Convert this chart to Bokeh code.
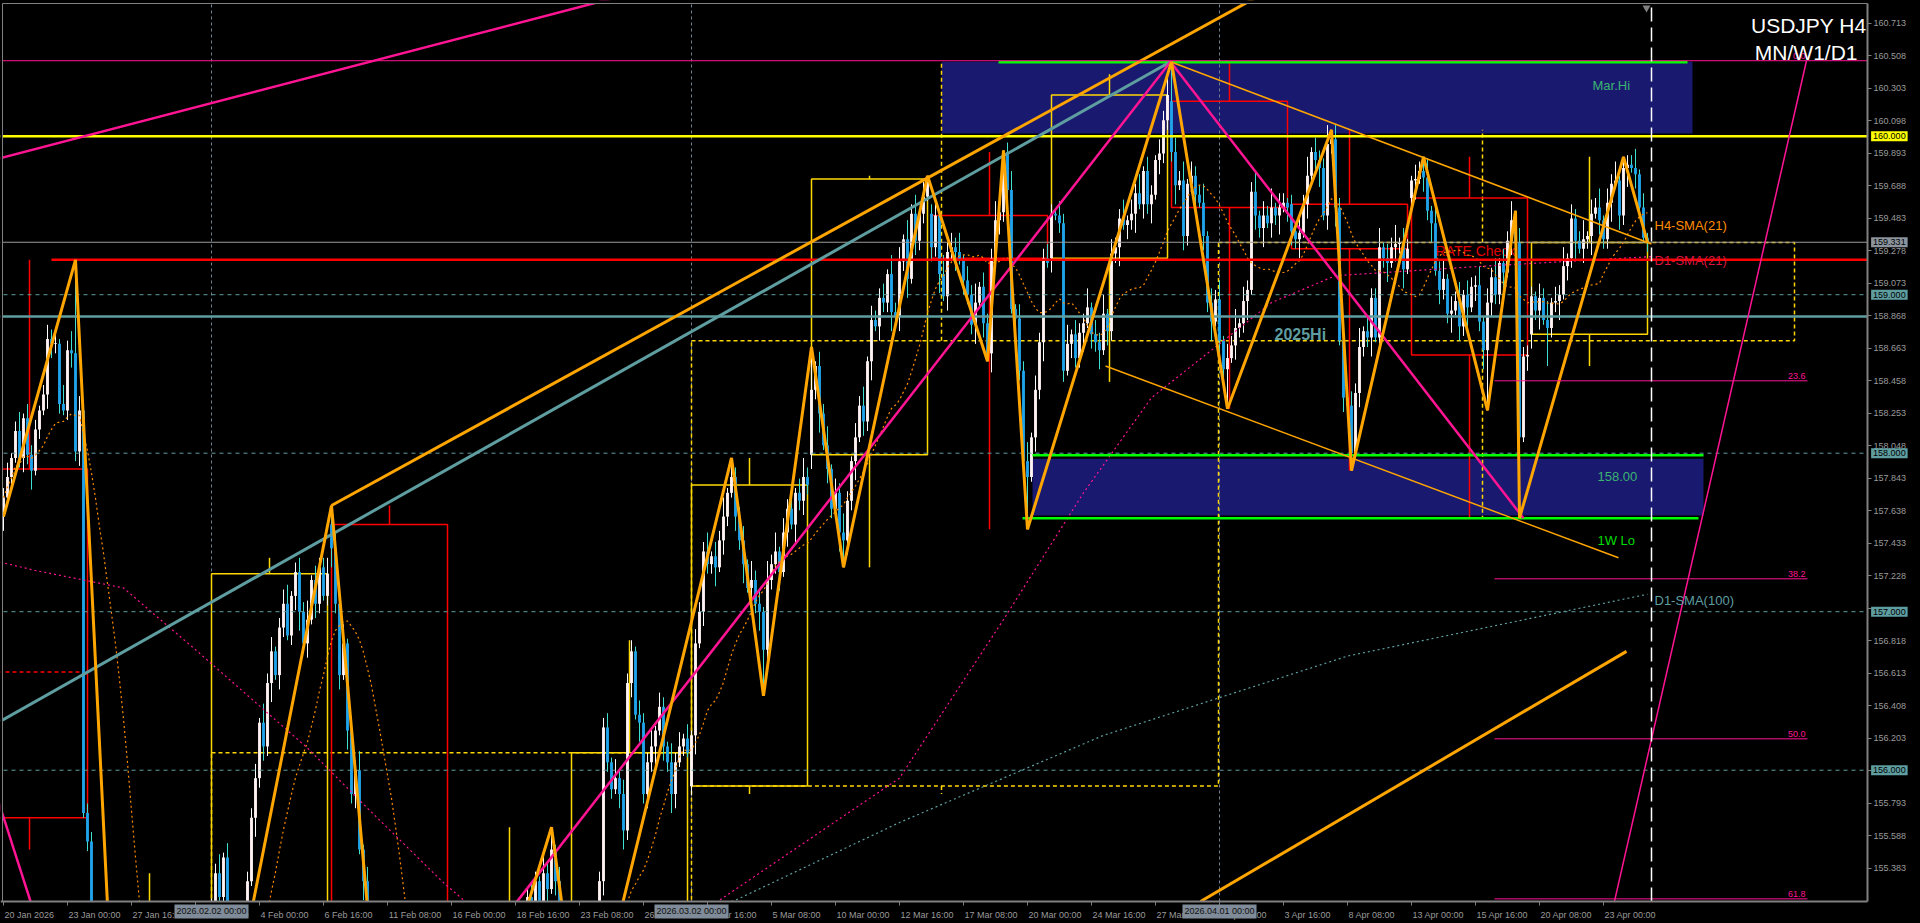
import pandas as pd
from bokeh.plotting import figure
from bokeh.models import Range1d, FixedTicker, PrintfTickFormatter, Label, ColumnDataSource
from bokeh.core.properties import value
from bokeh.embed import file_html
from bokeh.resources import INLINE

FONT = "Liberation Sans"

# ---------------- H4 candles (bar 0 = 20 Jan 2026 08:00) ----------------
close = [
    # 20-23 Jan
    157.72, 157.85, 157.97, 158.14, 157.97, 158.22, 157.99, 157.89, 158.15, 158.27, 158.37,
    158.72, 158.69, 158.69, 158.31, 158.27, 158.65, 158.63, 158.01, 158.27, 155.73, 155.55,
    # 26-30 Jan
    154.90, 154.60, 154.35, 154.50, 154.20, 154.05, 153.80, 153.40, 153.10, 152.60,
    152.30, 152.55, 152.80, 152.60, 152.90, 153.10, 152.95, 153.30, 153.20, 153.50,
    153.40, 153.65, 153.55, 153.80, 153.90, 154.10, 154.00, 154.30, 154.50, 154.75,
    # 2-6 Feb
    155.10, 155.35, 155.20, 155.45, 155.10, 154.90, 154.75, 154.95, 154.85, 155.30,
    155.70, 155.95, 156.30, 156.15, 156.55, 156.75, 156.60, 156.90, 157.05, 156.85,
    157.10, 157.25, 157.00, 156.80, 156.95, 157.20, 157.05, 157.28, 157.10, 157.24,
    # 9-13 Feb
    157.40, 157.05, 156.60, 156.80, 156.25, 155.85, 156.00, 155.50, 155.30, 154.90,
    154.60, 154.20, 154.40, 153.95, 153.70, 153.90, 153.50, 153.20, 153.05, 152.80,
    152.95, 153.20, 153.00, 152.75, 152.90, 153.10, 152.85, 152.70, 152.95, 152.90,
    # 16-20 Feb
    153.10, 153.35, 153.20, 153.50, 153.70, 153.55, 153.80, 154.00, 153.85, 154.10,
    153.95, 154.20, 154.40, 154.25, 154.55, 154.70, 154.50, 154.80, 154.95, 155.20,
    155.05, 155.30, 155.15, 155.35, 155.25, 155.50, 155.30, 155.00, 154.70, 154.55,
    # 23-27 Feb
    154.50, 154.30, 154.45, 154.20, 154.35, 154.60, 154.40, 155.30, 156.27, 156.05,
    155.88, 155.95, 155.85, 155.62, 156.55, 156.75, 156.35, 156.30, 155.85, 156.05,
    156.15, 156.25, 156.40, 156.15, 156.05, 155.85, 156.05, 156.15, 156.20, 156.11,
    # 2-6 Mar
    156.22, 156.80, 157.00, 157.38, 157.30, 157.35, 157.28, 157.45, 157.60, 157.75,
    157.85, 157.60, 157.45, 157.30, 157.15, 157.20, 157.05, 157.00, 156.76, 157.20,
    157.30, 157.38, 157.25, 157.50, 157.65, 157.55, 157.75, 157.70, 157.85, 157.80,
    # 9-13 Mar
    158.40, 158.55, 158.25, 158.05, 157.90, 157.65, 157.75, 157.50, 157.45, 157.70,
    157.95, 158.10, 158.30, 158.20, 158.58, 158.84, 158.80, 158.98, 158.95, 159.13,
    158.89, 158.86, 159.21, 159.35, 159.10, 159.51, 159.34, 159.51, 159.62, 159.73,
    # 16-20 Mar
    159.30, 159.50, 159.13, 158.99, 159.27, 159.30, 159.27, 159.22, 159.09, 159.00,
    158.81, 158.95, 159.05, 158.82, 158.63, 159.23, 159.47, 159.52, 159.90, 159.66,
    158.91, 158.85, 158.52, 157.95, 157.85, 158.10, 158.40, 158.70, 159.23, 159.20,
    # 23-27 Mar
    159.51, 159.50, 159.45, 158.52, 158.69, 158.75, 158.60, 158.76, 158.82, 158.92,
    158.75, 158.70, 158.65, 158.88, 158.77, 159.26, 159.30, 159.48, 159.44, 159.47,
    159.51, 159.64, 159.57, 159.78, 159.57, 159.63, 159.85, 159.89, 160.10, 160.26,
    # 30 Mar - 3 Apr
    159.90, 159.69, 159.72, 159.37, 159.70, 159.75, 159.63, 159.58, 159.37, 158.95,
    158.83, 158.97, 158.71, 158.53, 158.60, 158.68, 158.79, 158.82, 158.96, 159.03,
    159.65, 159.50, 159.42, 159.50, 159.45, 159.55, 159.50, 159.55, 159.58, 159.55,
    # 6-10 Apr
    159.40, 159.35, 159.39, 159.57, 159.75, 159.90, 159.85, 159.80, 159.50, 159.95,
    159.98, 159.55, 158.71, 158.35, 158.30, 158.00, 158.38, 158.67, 158.77, 158.73,
    158.98, 158.73, 159.30, 159.23, 159.20, 159.30, 159.32, 159.33, 159.16, 159.29,
    # 13-17 Apr
    159.72, 159.73, 159.78, 159.74, 159.53, 159.45, 159.15, 159.03, 159.10, 158.88,
    158.90, 158.96, 158.80, 159.00, 158.92, 159.05, 159.06, 158.83, 158.65, 158.95,
    159.11, 159.00, 159.20, 159.14, 159.34, 159.47, 159.33, 158.10, 158.61, 158.62,
    # 20-24 Apr
    158.99, 158.90, 158.98, 158.84, 158.79, 158.95, 158.96, 159.00, 159.18, 159.23,
    159.48, 159.34, 159.29, 159.35, 159.37, 159.51, 159.55, 159.47, 159.35, 159.58,
    159.70, 159.72, 159.50, 159.80, 159.82, 159.80, 159.76, 159.55, 159.36, 159.33,
]
# wick lengths, one digit per bar, in units of 3 pips
wick_up = ("2312413221232314242312"
           "231242312132413213242312132423" "324132413223142312341232413221"
           "132413241321324132413241321324" "231422314323142431423214231342"
           "213241322314232413224132142313" "132241324132231423142413221342"
           "213241324213241322314231424132" "231423241324132241324132413223"
           "213241322413241322413241321324" "132413224132413241322413241321"
           "213241322413241324132241324132" "132241324132413224132413241322"
           "213241324132241324132413224131")
wick_dn = ("3121232412133221232312"
           "312132423121324231213242312132" "213242312314232413212342313212"
           "423142314231423142314231423142" "312433124231243312432124313241"
           "324132413221342314232413243121" "241322413213241324132241314232"
           "324132241324132413224132413221" "324132413224132413241322413241"
           "312413224132413224132413241322" "241322413241324132241324132413"
           "324132241324132413224132413241" "241324132241324132413224132413"
           "324132241324132413224132413212")
gap_open = {0: 157.60, 82: 157.55, 172: 155.90, 202: 157.99, 232: 159.51,
            262: 159.23, 292: 160.22, 322: 159.57, 352: 159.61, 382: 158.75}
high_fix = {18: 159.22, 81: 157.34, 82: 157.67, 137: 155.64, 157: 156.82, 182: 157.97,
            202: 158.67, 231: 159.75, 250: 159.91, 291: 160.39, 292: 160.47, 332: 160.04,
            355: 159.87, 378: 159.53, 405: 159.87}
low_fix = {32: 152.10, 58: 154.60, 100: 152.60, 145: 154.15, 190: 156.47, 210: 157.28,
           246: 158.58, 256: 157.52, 265: 158.45, 306: 158.28, 337: 157.89, 371: 158.27,
           379: 157.59, 386: 158.55}

# ---------------- higher-timeframe candles ----------------
wk_start = [-8, 22, 52, 82, 112, 142, 172, 202, 232, 262, 292, 322, 352, 382]
wk_open  = [157.90, 154.20, 154.75, 157.55, 153.10, 154.55, 155.90, 157.99, 159.50, 159.23, 160.22, 159.57, 159.61, 158.75]
wk_high  = [159.22, 155.35, 157.34, 157.67, 155.64, 156.82, 157.97, 159.75, 159.90, 160.39, 160.47, 160.04, 159.87, 159.87]
wk_low   = [155.50, 152.10, 154.60, 152.60, 152.80, 154.15, 155.85, 157.28, 157.52, 158.45, 158.28, 157.89, 157.59, 158.55]
wk_close = [155.70, 154.90, 157.24, 152.90, 154.55, 156.11, 157.80, 159.73, 159.23, 160.26, 159.55, 159.29, 158.62, 159.33]

mn_start = [52, 172, 303.75]
mn_end   = [172, 303.75, 447.75]
mn_open  = [154.75, 155.90, 158.71]
mn_high  = [156.11, 160.47, 160.04]
mn_low   = [152.60, 155.85, 157.59]
mn_close = [156.11, 158.71, 159.33]
mn_wick_x = [112, 234.5, 369.75]
jan_open = 156.62

# ---------------- zigzag swing points ----------------
zig_bar = [0, 18, 32, 44, 58, 82, 100, 137, 145, 182, 190, 202, 210, 231, 246, 250, 256,
           292, 306, 332, 337, 355, 371, 378, 379, 405, 411]
zig_price = [157.60, 159.22, 152.10, 154.95, 154.60, 157.67, 152.60, 155.64, 154.15, 157.97,
             156.47, 158.67, 157.28, 159.75, 158.58, 159.91, 157.52, 160.47, 158.28, 160.04,
             157.89, 159.87, 158.27, 159.53, 157.59, 159.87, 159.33]

# ---------------- daily moving averages ----------------
d1s21_bar = [-2, 8, 30, 48, 62, 76, 91, 110, 122, 150, 179, 224, 250, 270, 287, 317, 333, 370, 412]
d1s21_val = [157.32, 157.26, 157.15, 156.76, 156.45, 156.14, 155.76, 155.29, 155.03, 154.75,
             155.18, 155.95, 156.95, 157.75, 158.35, 158.95, 159.12, 159.18, 159.24]
d1s100_bar = [170, 183, 224, 275, 336, 411]
d1s100_val = [155.08, 155.18, 155.67, 156.22, 156.72, 157.11]

# ---------------- levels ----------------
level_160 = 160.000
d1_line = 159.22
price_now = 159.331
hi_2025 = 158.863
round_levels = [159.0, 158.0, 157.0, 156.0]
fib_hi, fib_lo = 160.476, 151.92
fib_levels = [0.0, 23.6, 38.2, 50.0, 61.8]

y_ticks = [160.713, 160.508, 160.303, 160.098, 159.893, 159.688, 159.483, 159.278, 159.073,
           158.868, 158.663, 158.458, 158.253, 158.048, 157.843, 157.638, 157.433, 157.228,
           157.023, 156.818, 156.613, 156.408, 156.203, 155.998, 155.793, 155.588, 155.383]
x_ticks = [0, 16, 32, 48, 64, 80, 96, 112, 128, 144, 160, 176, 192, 208, 224, 240, 256,
           272, 288, 304, 320, 336, 352, 368, 384, 400]
x_labels = ["20 Jan 2026", "23 Jan 00:00", "27 Jan 16:00", "30 Jan 08:00", "4 Feb 00:00",
            "6 Feb 16:00", "11 Feb 08:00", "16 Feb 00:00", "18 Feb 16:00", "23 Feb 08:00",
            "26 Feb 00:00", "2 Mar 16:00", "5 Mar 08:00", "10 Mar 00:00", "12 Mar 16:00",
            "17 Mar 08:00", "20 Mar 00:00", "24 Mar 16:00", "27 Mar 08:00", "1 Apr 00:00",
            "3 Apr 16:00", "8 Apr 08:00", "13 Apr 00:00", "15 Apr 16:00", "20 Apr 08:00",
            "23 Apr 00:00"]
sep_bar = [52, 172, 304]
sep_text = ["2026.02.02 00:00", "2026.03.02 00:00", "2026.04.01 00:00"]

# chart area limits (bar / price units)
AX_X = 466.0          # price scale line
AX_Y = 155.172        # time scale line
TOP_Y = 160.837
LEFT_X = -0.25

# ---------------- build OHLC ----------------
n = len(close)
assert len(wick_up) == n and len(wick_dn) == n
opens, highs, lows = [], [], []
for i, c in enumerate(close):
    o = gap_open.get(i, close[i - 1] if i > 0 else c)
    opens.append(o)
    highs.append(high_fix.get(i, max(o, c) + int(wick_up[i]) * 0.03))
    lows.append(low_fix.get(i, min(o, c) - int(wick_dn[i]) * 0.03))

bull = [c >= o for o, c in zip(opens, close)]
src = ColumnDataSource(dict(
    x=list(range(n)), high=highs, low=lows,
    top=[max(o, c) + (0.006 if abs(o - c) < 0.006 else 0) for o, c in zip(opens, close)],
    bottom=[min(o, c) for o, c in zip(opens, close)],
    body=["#fff3f3" if b else "#1fa3ea" for b in bull],
    wick=["#ffffff" if b else "#40e0d0" for b in bull],
))
sma21 = pd.Series(close).rolling(21, min_periods=1).mean().tolist()

# ---------------- figure ----------------
p = figure(width=1920, height=923, title=None,
           x_range=Range1d(-0.75, 479.25), y_range=Range1d(155.033, 160.856),
           output_backend="svg", toolbar_location=None, tools="",
           y_axis_location="right", background_fill_color="#000000",
           border_fill_color="#000000", min_border=0, outline_line_color=None)
p.grid.visible = False

XL, XR = -10, AX_X

# blue zones
p.quad(left=[234.5, 257.25], right=[422.25, 425], bottom=[160.017, 157.607],
       top=[160.47, 157.965], fill_color="#191970", line_color=None)

# period separators
for b in sep_bar:
    p.line([b, b], [AX_Y, TOP_Y], line_color="#6f8090", line_width=1, line_dash="3 3")

# monthly candles (dashed)
p.line([XL, 20], [jan_open, jan_open], line_color="#ff0000", line_width=1.5, line_dash="4 3")
for s, e, o, h, l, c, wx in zip(mn_start, mn_end, mn_open, mn_high, mn_low, mn_close, mn_wick_x):
    col = "#ffd700" if c >= o else "#ff0000"
    p.quad(left=s, right=e, bottom=min(o, c), top=max(o, c), fill_color=None,
           line_color=col, line_width=1.5, line_dash="4 3")
    p.segment(x0=[wx, wx], y0=[max(o, c), min(o, c)], x1=[wx, wx], y1=[h, l],
              line_color=col, line_width=1.5, line_dash="4 3")

# weekly candles
for s, o, h, l, c in zip(wk_start, wk_open, wk_high, wk_low, wk_close):
    col = "#ffd700" if c >= o else "#ff0000"
    p.quad(left=s, right=s + 29, bottom=min(o, c), top=max(o, c), fill_color=None,
           line_color=col, line_width=1.5)
    wx = s + 14.5
    p.segment(x0=[wx, wx], y0=[max(o, c), min(o, c)], x1=[wx, wx], y1=[h, l],
              line_color=col, line_width=1.5)

p.text(x=[358.0], y=[159.273], text=["RATE Check"], text_font=value(FONT),
       text_font_size="14px", text_color="#e00000", text_align="left", text_baseline="alphabetic")

# H4 candles
p.segment(x0="x", y0="low", x1="x", y1="high", line_color="wick", line_width=1, source=src)
p.vbar(x="x", width=0.72, top="top", bottom="bottom", fill_color="body", line_color=None, source=src)

# moving averages
p.line(list(range(n)), sma21, line_color="#ff8c00", line_width=1.2, line_dash="2 3")
p.line(d1s21_bar, d1s21_val, line_color="#ff1493", line_width=1.2, line_dash="2 3")
p.line(d1s100_bar, d1s100_val, line_color="#5f9ea0", line_width=1.2, line_dash="2 3")

# horizontal levels
for lv in round_levels:
    p.line([XL, XR], [lv, lv], line_color="#5f9ea0", line_width=1, line_dash="4 4")
p.line([XL, XR], [price_now, price_now], line_color="#9a9a9a", line_width=1.2)
p.line([XL, XR], [hi_2025, hi_2025], line_color="#5f9ea0", line_width=2.5)
p.line([12, XR], [d1_line, d1_line], line_color="#ff0000", line_width=2.5)
p.line([XL, XR], [level_160, level_160], line_color="#ffff00", line_width=2.5)

# zone borders
p.line([248.75, 421], [160.466, 160.466], line_color="#00ff00", line_width=2.5)
p.line([257.25, 425], [157.987, 157.987], line_color="#00ff00", line_width=2.5)
p.line([254.75, 423.75], [157.59, 157.59], line_color="#00ff00", line_width=2.5)

# trend lines
p.line([-0.75, 291.75], [156.31, 160.47], line_color="#5f9ea0", line_width=3)
p.line([82, 320], [157.67, 160.97], line_color="#ffa500", line_width=3)
p.line([299.25, 405.75], [155.172, 156.75], line_color="#ffa500", line_width=3)
p.line([291.75, 412], [160.47, 159.32], line_color="#ffa500", line_width=1.5)
p.line([275.5, 403.75], [158.55, 157.34], line_color="#ffa500", line_width=1.5)
p.line([-1, 160], [159.86, 160.92], line_color="#ff1493", line_width=2.5)
p.line([-3, 12], [155.94, 154.76], line_color="#ff1493", line_width=2.5)
p.line([120, 291.75], [154.90, 160.47], line_color="#ff1493", line_width=2.5)
p.line([291.75, 380], [160.47, 157.59], line_color="#ff1493", line_width=2.5)

# zigzag
p.line(zig_bar, zig_price, line_color="#ffa500", line_width=3)

# fibonacci
fib_prices = [fib_hi - lv / 100.0 * (fib_hi - fib_lo) for lv in fib_levels]
p.line([XL, XR], [fib_prices[0], fib_prices[0]], line_color="#ff1493", line_width=1)
for fp in fib_prices[1:]:
    p.line([372.75, 451], [fp, fp], line_color="#ff1493", line_width=1)
p.line([400, 450.75], [154.87, fib_hi], line_color="#ff1493", line_width=1.5)
p.text(x=[450.5] * 5, y=[fp + 0.014 for fp in fib_prices], text=["%.1f" % lv for lv in fib_levels],
       text_font=value(FONT), text_font_size="9px", text_color="#ff1493",
       text_align="right", text_baseline="bottom")

# current bar line
p.line([412, 412], [AX_Y, TOP_Y], line_color="#ffffff", line_width=1.5, line_dash="14 6")

# texts
def txt(x, y, s, color, size, align="left", style="normal"):
    p.text(x=[x], y=[y], text=[s], text_font=value(FONT), text_font_size=size,
           text_color=color, text_align=align, text_baseline="alphabetic", text_font_style=style)

txt(397.25, 160.317, "Mar.Hi", "#3cb371", "13px")
txt(398.5, 157.853, "158.00", "#3cb371", "13px")
txt(398.5, 157.449, "1W Lo", "#00dd00", "13px")
txt(317.75, 158.749, "2025Hi", "#5f9ea0", "16px", style="bold")
txt(412.75, 159.437, "H4-SMA(21)", "#ff8c00", "13px")
txt(412.75, 159.216, "D1-SMA(21)", "#dc143c", "13px")
txt(412.75, 157.071, "D1-SMA(100)", "#5f9ea0", "13px")

# mask outside the chart area (scale areas)
p.quad(left=[-5, AX_X + 0.1, -5, -5], right=[485, 485, 485, LEFT_X],
       bottom=[150, 150, TOP_Y, 150], top=[AX_Y - 0.004, 165, 165, 165],
       fill_color="#000000", line_color=None)
# frame border lines
p.line([LEFT_X, AX_X], [TOP_Y, TOP_Y], line_color="#808080", line_width=1)
p.line([LEFT_X, LEFT_X], [AX_Y, TOP_Y], line_color="#808080", line_width=1)
p.scatter(x=[410.75], y=[160.81], marker="inverted_triangle", size=8,
          fill_color="#808080", line_color=None)

txt(465.75, 160.698, "USDJPY H4", "#ffffff", "21px", align="right")
txt(463.5, 160.528, "MN/W1/D1", "#ffffff", "21px", align="right")

# ---------------- axes ----------------
ya = p.yaxis[0]
ya.fixed_location = AX_X
ya.bounds = (AX_Y, TOP_Y)
ya.ticker = FixedTicker(ticks=y_ticks)
ya.formatter = PrintfTickFormatter(format="%.3f")
ya.major_label_overrides = {157.023: "", 155.998: ""}
ya.major_label_text_font = FONT
ya.major_label_text_font_size = "9px"
ya.major_label_text_color = "#9a9a9a"
ya.axis_line_color = "#808080"
ya.axis_line_width = 2
ya.major_tick_line_color = "#808080"
ya.major_tick_out = 4
ya.major_tick_in = 0
ya.minor_tick_out = 0
ya.minor_tick_in = 0
ya.major_label_standoff = 2

# time labels start at their tick, as in the terminal: label centres sit right of the tick marks
CW = {str(d): 556 for d in range(10)}
CW.update({" ": 278, ":": 278, "J": 500, "a": 556, "n": 556, "F": 611, "e": 556,
           "b": 556, "M": 833, "r": 333, "A": 667, "p": 556})
def text_w(s, size=9.0):
    return sum(CW.get(ch, 556) for ch in s) * size / 1000.0
label_centres = [t + (text_w(s) / 2.0 + 1.0) / 4.0 for t, s in zip(x_ticks, x_labels)]

xa = p.xaxis[0]
xa.fixed_location = AX_Y
xa.bounds = (-0.75, AX_X)
xa.ticker = FixedTicker(ticks=label_centres, minor_ticks=x_ticks)
xa.major_label_overrides = {c: s for c, s in zip(label_centres, x_labels)}
xa.major_label_text_font = FONT
xa.major_label_text_font_size = "9px"
xa.major_label_text_color = "#9a9a9a"
xa.axis_line_color = "#808080"
xa.axis_line_width = 2
xa.major_tick_out = 0
xa.major_tick_in = 0
xa.minor_tick_line_color = "#808080"
xa.minor_tick_out = 4
xa.minor_tick_in = 0
xa.major_label_standoff = 5

# highlighted price labels on the price scale
for lv, bg in [(level_160, "#ffff00"), (price_now, "#8c949e"), (159.0, "#5f9ea0"),
               (158.0, "#5f9ea0"), (157.0, "#5f9ea0"), (156.0, "#5f9ea0")]:
    p.add_layout(Label(x=AX_X + 0.9, y=lv, text="%.3f" % lv, text_font=FONT, text_font_size="9px",
                       text_color="#000000", text_align="left", text_baseline="middle",
                       background_fill_color=bg, padding=2))
# highlighted period separator labels on the time scale
for b, s in zip(sep_bar, sep_text):
    p.add_layout(Label(x=b, y=155.109, text=s, text_font=FONT, text_font_size="9px",
                       text_color="#101010", text_align="center", text_baseline="middle",
                       background_fill_color="#7f8b98", padding=2))

try:
    from bokeh.models import GlobalInlineStyleSheet
    p.stylesheets = [GlobalInlineStyleSheet(
        css="html, body { margin: 0; padding: 0; background-color: #000000; overflow: hidden; }")]
except Exception:
    pass

open("out.html", "w").write(file_html(p, INLINE))
